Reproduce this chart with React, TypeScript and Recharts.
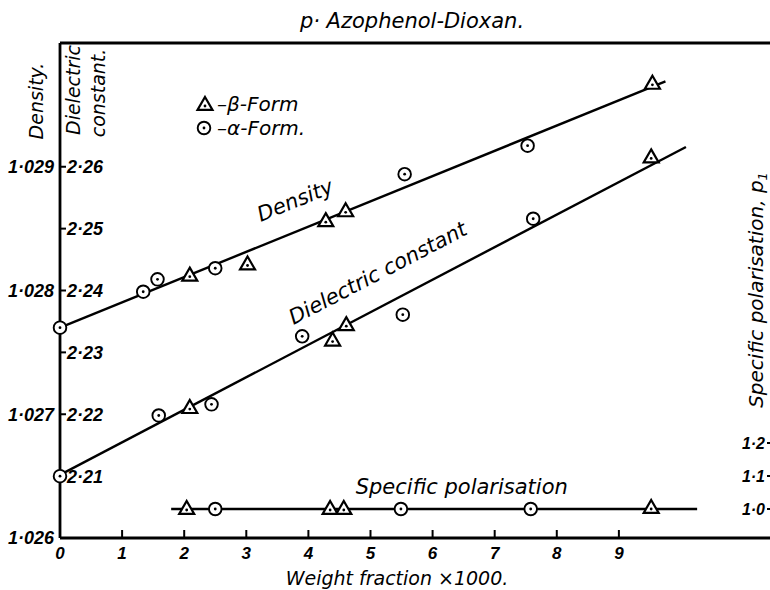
import React from 'react'
import { ComposedChart, Line, Scatter, XAxis, YAxis, ReferenceLine, ReferenceDot, Legend } from 'recharts'

// weight fraction x 1000 and the readings for both forms
const DENS_ALPHA_X = [0, 1.34, 1.57, 2.5, 5.55, 7.53]
const DENS_ALPHA = [1.0277, 1.02799, 1.02809, 1.02818, 1.02894, 1.02917]
const DENS_BETA_X = [2.09, 3.02, 4.28, 4.6, 9.54]
const DENS_BETA = [1.02812, 1.02821, 1.02856, 1.02864, 1.02967]

const DIEL_ALPHA_X = [0, 1.59, 2.44, 3.9, 5.52, 7.62]
const DIEL_ALPHA = [2.21, 2.2198, 2.2216, 2.2326, 2.2361, 2.2516]
const DIEL_BETA_X = [2.09, 4.39, 4.61, 9.52]
const DIEL_BETA = [2.221, 2.2319, 2.2344, 2.2615]

const POL_ALPHA_X = [2.5, 5.49, 7.58]
const POL_ALPHA = [1.0, 1.0, 1.0]
const POL_BETA_X = [2.04, 4.35, 4.57, 9.52]
const POL_BETA = [1.0, 1.0, 1.0, 1.003]

// fitted straight lines (end points)
const DENS_FIT_X = [0, 9.75]
const DENS_FIT = [1.0277, 1.02969]
const DIEL_FIT_X = [0, 10.08]
const DIEL_FIT = [2.2102, 2.2632]
const POL_FIT_X = [1.79, 10.26]
const POL_FIT = [1.0, 1.0]

const X_TICKS = [0, 1, 2, 3, 4, 5, 6, 7, 8, 9]
const DENS_TICKS = [1.026, 1.027, 1.028, 1.029]
const DIEL_TICKS = [2.21, 2.22, 2.23, 2.24, 2.25, 2.26]
const POL_TICKS = [1.0, 1.1, 1.2]

const zip = (xs: number[], ys: number[]) => xs.map((x, i) => ({ x, y: ys[i] }))

const WORD = { fontFamily: '"DejaVu Sans"', fontStyle: 'italic' as const, fill: '#000' }
const NUM = { fontFamily: '"Liberation Sans"', fontStyle: 'italic', fontWeight: 'bold', fontSize: 18, fill: '#000' }
const dot = (d: number) => (v: number) => v.toFixed(d).replace('.', '·')

function Tri({ cx, cy }: any) {
  const s = 15
  const h = s * 0.866
  const top = cy - h * 0.62
  const bot = cy + h * 0.38
  return (
    <g>
      <path d={`M${cx},${top}L${cx + s / 2},${bot}L${cx - s / 2},${bot}Z`} fill="#fff" stroke="#000" strokeWidth={2.2} />
      <circle cx={cx} cy={cy + 1} r={1.4} fill="#000" />
    </g>
  )
}

function Ring({ cx, cy }: any) {
  return (
    <g>
      <circle cx={cx} cy={cy} r={6.3} fill="#fff" stroke="#000" strokeWidth={1.9} />
      <circle cx={cx} cy={cy} r={1.4} fill="#000" />
    </g>
  )
}

function XTick({ x, y, payload }: any) {
  return (
    <g>
      <line x1={x} x2={x} y1={y} y2={y - 8} stroke="#000" strokeWidth={2} />
      <text x={x} y={y + 21} textAnchor="middle" style={{ ...(NUM as any), fontSize: 17 }}>{payload.value}</text>
    </g>
  )
}

const lineLabel = (text: string, angle: number) => (p: any) => {
  const vb = p.viewBox
  const cx = vb.x + vb.width / 2
  const cy = vb.y + vb.height / 2
  return (
    <text x={cx} y={cy} textAnchor="middle" transform={`rotate(${angle} ${cx} ${cy})`} style={{ ...WORD, fontSize: 21 }}>
      {text}
    </text>
  )
}

function LegendBox({ payload }: any) {
  // beta (triangle) first, then alpha
  const items = (payload || [])
    .filter((e: any) => e.type !== 'none')
    .sort((a: any, b: any) => (a.type === 'triangle' ? -1 : 0) - (b.type === 'triangle' ? -1 : 0))
  return (
    <svg width={160} height={50}>
      {items.map((e: any, i: number) => (
        <g key={i}>
          {e.type === 'triangle' ? <Tri cx={13} cy={13 + i * 24} /> : <Ring cx={12} cy={12 + i * 24} />}
          <text x={25} y={19 + i * 24} style={{ ...WORD, fontSize: 20 }}>{e.value}</text>
        </g>
      ))}
    </svg>
  )
}

export default function App() {
  return (
    <div style={{ position: 'absolute', left: 0, top: 0, width: 770, height: 590, overflow: 'hidden', background: '#fff' }}>
      <ComposedChart width={790} height={590} margin={{ top: 43, right: 5, bottom: 0, left: 0 }}>
        <XAxis
          type="number"
          dataKey="x"
          domain={[0, 11.675]}
          ticks={X_TICKS}
          interval={0}
          tick={<XTick />}
          tickLine={false}
          tickSize={0}
          tickMargin={0}
          height={52}
          axisLine={{ stroke: '#000', strokeWidth: 2.8 }}
        />
        <YAxis
          yAxisId="rho"
          type="number"
          dataKey="y"
          domain={[1.026, 1.03]}
          ticks={DENS_TICKS}
          interval={0}
          width={60}
          tickLine={false}
          tickSize={0}
          tickMargin={6}
          tick={NUM}
          tickFormatter={dot(3)}
          axisLine={{ stroke: '#000', strokeWidth: 2.8 }}
        />
        <YAxis
          yAxisId="diel"
          type="number"
          dataKey="y"
          mirror
          domain={[2.2, 2.28]}
          ticks={DIEL_TICKS}
          interval={0}
          tickSize={6}
          tickMargin={1}
          tickLine={{ stroke: '#000', strokeWidth: 2 }}
          tick={NUM}
          tickFormatter={dot(2)}
          axisLine={false}
        />
        <YAxis
          yAxisId="pol"
          orientation="right"
          type="number"
          dataKey="y"
          mirror
          domain={[0.91212, 2.41212]}
          ticks={POL_TICKS}
          interval={0}
          tickSize={18}
          tickMargin={2}
          tickLine={{ stroke: '#000', strokeWidth: 2 }}
          tick={{ ...NUM, fontSize: 16 }}
          tickFormatter={dot(1)}
          axisLine={{ stroke: '#000', strokeWidth: 2.8 }}
        />
        <ReferenceLine yAxisId="diel" y={2.28} stroke="#000" strokeWidth={3} />

        <Line data={zip(DENS_FIT_X, DENS_FIT)} yAxisId="rho" dataKey="y" stroke="#000" strokeWidth={2.4} dot={false} legendType="none" isAnimationActive={false} />
        <Line data={zip(DIEL_FIT_X, DIEL_FIT)} yAxisId="diel" dataKey="y" stroke="#000" strokeWidth={2.4} dot={false} legendType="none" isAnimationActive={false} />
        <Line data={zip(POL_FIT_X, POL_FIT)} yAxisId="pol" dataKey="y" stroke="#000" strokeWidth={2.6} dot={false} legendType="none" isAnimationActive={false} />

        <Scatter name="–β-Form" legendType="triangle" data={zip(DENS_BETA_X, DENS_BETA)} yAxisId="rho" dataKey="y" shape={<Tri />} isAnimationActive={false} />
        <Scatter name="–α-Form." legendType="circle" data={zip(DENS_ALPHA_X, DENS_ALPHA)} yAxisId="rho" dataKey="y" shape={<Ring />} isAnimationActive={false} />
        <Scatter legendType="none" data={zip(DIEL_BETA_X, DIEL_BETA)} yAxisId="diel" dataKey="y" shape={<Tri />} isAnimationActive={false} />
        <Scatter legendType="none" data={zip(DIEL_ALPHA_X, DIEL_ALPHA)} yAxisId="diel" dataKey="y" shape={<Ring />} isAnimationActive={false} />
        <Scatter legendType="none" data={zip(POL_BETA_X, POL_BETA)} yAxisId="pol" dataKey="y" shape={<Tri />} isAnimationActive={false} />
        <Scatter legendType="none" data={zip(POL_ALPHA_X, POL_ALPHA)} yAxisId="pol" dataKey="y" shape={<Ring />} isAnimationActive={false} />

        <ReferenceDot yAxisId="rho" x={3.83} y={1.028675} r={1} fill="none" stroke="none" label={lineLabel('Density', -22)} />
        <ReferenceDot yAxisId="diel" x={5.17} y={2.2418} r={1} fill="none" stroke="none" label={lineLabel('Dielectric constant', -27.5)} />
        <ReferenceDot yAxisId="pol" x={6.47} y={1.0455} r={1} fill="none" stroke="none" label={lineLabel('Specific polarisation', 0)} />

        <Legend
          layout="vertical"
          align="center"
          verticalAlign="middle"
          content={<LegendBox />}
          wrapperStyle={{ left: 192, top: 92, width: 160, height: 50 }}
        />
      </ComposedChart>
      <svg width={770} height={590} style={{ position: 'absolute', left: 0, top: 0, pointerEvents: 'none' }}>
        <text x={412} y={28} textAnchor="middle" style={{ ...WORD, fontSize: 21 }}>p· Azophenol-Dioxan.</text>
        <text transform="translate(43 101) rotate(-90)" textAnchor="middle" style={{ ...WORD, fontSize: 19 }}>Density.</text>
        <text transform="translate(80 90) rotate(-90)" textAnchor="middle" style={{ ...WORD, fontSize: 19 }}>Dielectric</text>
        <text transform="translate(105 93) rotate(-90)" textAnchor="middle" style={{ ...WORD, fontSize: 19 }}>constant.</text>
        <text transform="translate(763 290) rotate(-90)" textAnchor="middle" style={{ ...WORD, fontSize: 20 }}>
          Specific polarisation, p<tspan fontSize={13} dy={4}>1</tspan>
        </text>
        <text x={397} y={585} textAnchor="middle" style={{ ...WORD, fontSize: 19 }}>Weight fraction ×1000.</text>
      </svg>
    </div>
  )
}
